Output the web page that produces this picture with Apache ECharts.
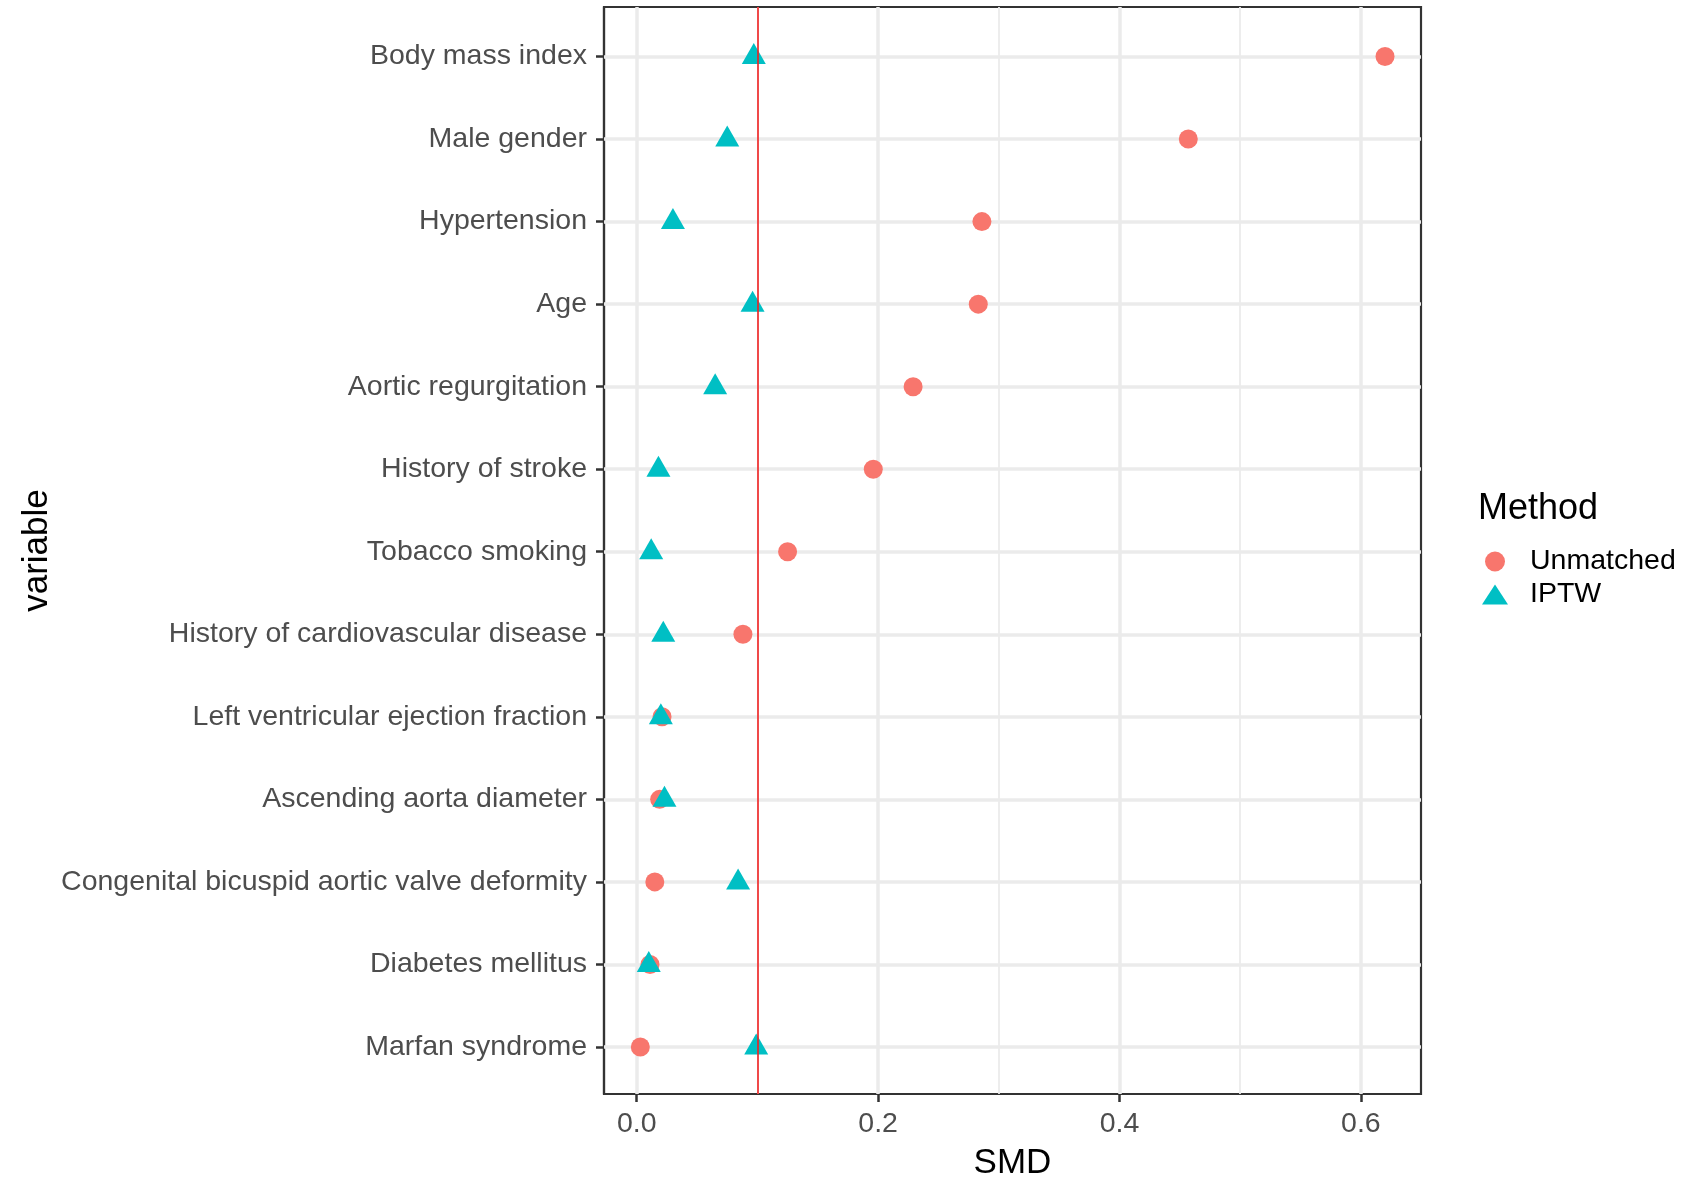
<!DOCTYPE html>
<html>
<head>
<meta charset="utf-8">
<script src="https://cdn.jsdelivr.net/npm/echarts@6/dist/echarts.min.js"></script>
<style>
  html, body { margin: 0; padding: 0; background: #fff; }
  #chart { width: 1698px; height: 1177px; }
</style>
</head>
<body>
<div id="chart"></div>
<script>
// covariates, top to bottom
const variables = [
  'Body mass index',
  'Male gender',
  'Hypertension',
  'Age',
  'Aortic regurgitation',
  'History of stroke',
  'Tobacco smoking',
  'History of cardiovascular disease',
  'Left ventricular ejection fraction',
  'Ascending aorta diameter',
  'Congenital bicuspid aortic valve deformity',
  'Diabetes mellitus',
  'Marfan syndrome'
]

// SMD
const unmatched = [0.620, 0.457, 0.286, 0.283, 0.229, 0.196, 0.125, 0.088, 0.021, 0.019, 0.015, 0.011, 0.003]
const iptw = [0.097, 0.075, 0.030, 0.096, 0.065, 0.018, 0.012, 0.022, 0.020, 0.023, 0.084, 0.010, 0.099]

const xTicks = [0, 0.2, 0.4, 0.6]
const xMinor = [0.1, 0.3, 0.5]
const threshold = 0.1

const font = 'Arial, "Liberation Sans", sans-serif'
const gridColor = '#EBEBEB'
const rows = variables.map((_, i) => i)

const chart = echarts.init(document.getElementById('chart'))

const gridLines = [
  ...xTicks.map(v => ({ xAxis: v, lineStyle: { width: 3.5 } })),
  ...xMinor.map(v => ({ xAxis: v, lineStyle: { width: 1.8 } })),
  ...rows.map(i => ({ yAxis: i, lineStyle: { width: 3.5 } }))
]

const axisLine = { show: true, onZero: false, lineStyle: { color: '#333333', width: 2.2 } }
const axisTick = { show: true, length: 8, lineStyle: { color: '#333333', width: 2.5 } }

chart.setOption({
  animation: false,
  textStyle: { fontFamily: font },
  title: {
    text: 'Method',
    left: 1473,
    top: 486,
    textStyle: { fontSize: 36, fontWeight: 'normal', color: '#000', fontFamily: font }
  },
  legend: {
    orient: 'vertical',
    left: 1477,
    top: 542,
    itemWidth: 26,
    itemHeight: 20,
    itemGap: 4,
    selectedMode: false,
    textStyle: { fontSize: 28.5, color: '#000', fontFamily: font, padding: [0, 0, 0, 17] },
    data: ['Unmatched', 'IPTW']
  },
  grid: {
    left: 604,
    top: 7,
    right: 277,
    bottom: 83,
    outerBoundsMode: 'none',
    containLabel: false,
    show: true,
    borderColor: '#333333',
    borderWidth: 2.2,
    backgroundColor: '#fff'
  },
  xAxis: {
    type: 'value',
    min: -0.0271,
    max: 0.6498,
    name: 'SMD',
    nameLocation: 'middle',
    nameGap: 52,
    nameTextStyle: { fontSize: 35, color: '#000', fontFamily: font },
    axisLine: axisLine,
    axisTick: { ...axisTick, customValues: xTicks },
    axisLabel: {
      customValues: xTicks,
      margin: 16,
      fontSize: 28.5,
      color: '#4D4D4D',
      formatter: v => v.toFixed(1)
    },
    splitLine: { show: false }
  },
  yAxis: {
    type: 'value',
    inverse: true,
    min: -0.6,
    max: 12.57,
    name: 'variable',
    nameLocation: 'middle',
    nameRotate: 90,
    nameGap: 549,
    nameTextStyle: { fontSize: 35, color: '#000', fontFamily: font },
    axisLine: axisLine,
    axisTick: { ...axisTick, customValues: rows },
    axisLabel: {
      customValues: rows,
      margin: 17,
      fontSize: 28.5,
      color: '#4D4D4D',
      formatter: v => variables[Math.round(v)]
    },
    splitLine: { show: false }
  },
  series: [
    {
      name: 'Unmatched',
      type: 'scatter',
      symbol: 'circle',
      symbolSize: 19,
      z: 3,
      itemStyle: { color: '#F8766D', opacity: 1 },
      emphasis: { disabled: true },
      data: unmatched.map((v, i) => [v, i]),
      markLine: {
        silent: true,
        symbol: 'none',
        z: 1,
        label: { show: false },
        lineStyle: { color: gridColor, type: 'solid' },
        data: gridLines
      }
    },
    {
      name: 'IPTW',
      type: 'scatter',
      symbol: 'triangle',
      symbolSize: [24, 21],
      symbolOffset: [0, -3],
      z: 4,
      itemStyle: { color: '#00BFC4', opacity: 1 },
      emphasis: { disabled: true },
      data: iptw.map((v, i) => [v, i]),
      markLine: {
        silent: true,
        symbol: 'none',
        z: 6,
        label: { show: false },
        lineStyle: { color: '#F02020', width: 1.6, type: 'solid' },
        data: [{ xAxis: threshold }]
      }
    }
  ]
})
</script>
</body>
</html>
